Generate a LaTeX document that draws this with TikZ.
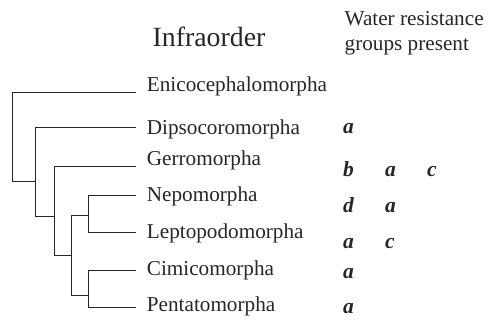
\documentclass[tikz,border=0pt]{standalone}
\usepackage{fontspec}
\setmainfont{Liberation Serif}
\begin{document}
\begin{tikzpicture}[x=1pt,y=-1pt,
  branch/.style={line width=0.8pt,black!85},
  taxon/.style={anchor=base west,inner sep=0pt,font=\fontsize{21.2}{25}\selectfont,text=black!85},
  grp/.style={anchor=base west,inner sep=0pt,font=\fontsize{21.5}{25}\selectfont\bfseries\itshape,text=black!85},
  head/.style={anchor=base west,inner sep=0pt,text=black!85},
  colhead/.style={head,font=\fontsize{21.2}{24}\selectfont}]
\useasboundingbox (0,0) rectangle (492,321);

% headings
\node[head,font=\fontsize{27.8}{32}\selectfont] (hinfra) at (152.5,47) {Infraorder};
\node[colhead] (hwater)  at (344.5,26)   {Water resistance};
\node[colhead] (hgroups) at (344.5,50.5) {groups present};

% taxa
\node[taxon] (lE) at (146.7,91)    {Enicocephalomorpha};
\node[taxon] (lD) at (146.7,134)   {Dipsocoromorpha};
\node[taxon] (lG) at (146.7,165.5) {Gerromorpha};
\node[taxon] (lN) at (146.7,201.5) {Nepomorpha};
\node[taxon] (lL) at (146.7,238.5) {Leptopodomorpha};
\node[taxon] (lC) at (146.7,275)   {Cimicomorpha};
\node[taxon] (lP) at (146.7,311.5) {Pentatomorpha};

% branch tips
\coordinate (tE) at (136,92.7);
\coordinate (tD) at (136,127.7);
\coordinate (tG) at (136,166);
\coordinate (tN) at (136,195);
\coordinate (tL) at (136,232.7);
\coordinate (tC) at (136,270);
\coordinate (tP) at (136,307.3);

% internal nodes (x of the vertical bar, y where the parent joins)
\coordinate (r)   at (12.7,181);
\coordinate (n2)  at (35.7,181);
\coordinate (n3)  at (54.3,216.7);
\coordinate (n4)  at (71.3,255.7);
\coordinate (nNL) at (88.3,215);
\coordinate (nCP) at (88.3,295);

% tree
\draw[branch] (tE) -| (r) -- (n2);
\draw[branch] (tD) -| (n3 -| n2) -- (n3);
\draw[branch] (tG) -| (n4 -| n3) -- (n4);
\draw[branch] (nNL) -| (nCP -| n4) -- (nCP);
\draw[branch] (tN) -| (nNL) |- (tL);
\draw[branch] (tC) -| (nCP) |- (tP);

% water resistance groups
\node[grp] (gD1) at (343,133.5) {a};
\node[grp] (gG1) at (343,176.5) {b};
\node[grp] (gG2) at (385,176.5) {a};
\node[grp] (gG3) at (427,176.5) {c};
\node[grp] (gN1) at (343,212.5) {d};
\node[grp] (gN2) at (385,212.5) {a};
\node[grp] (gL1) at (343,248)   {a};
\node[grp] (gL2) at (385,248)   {c};
\node[grp] (gC1) at (343,278.5) {a};
\node[grp] (gP1) at (343,313)   {a};
\end{tikzpicture}
\end{document}
